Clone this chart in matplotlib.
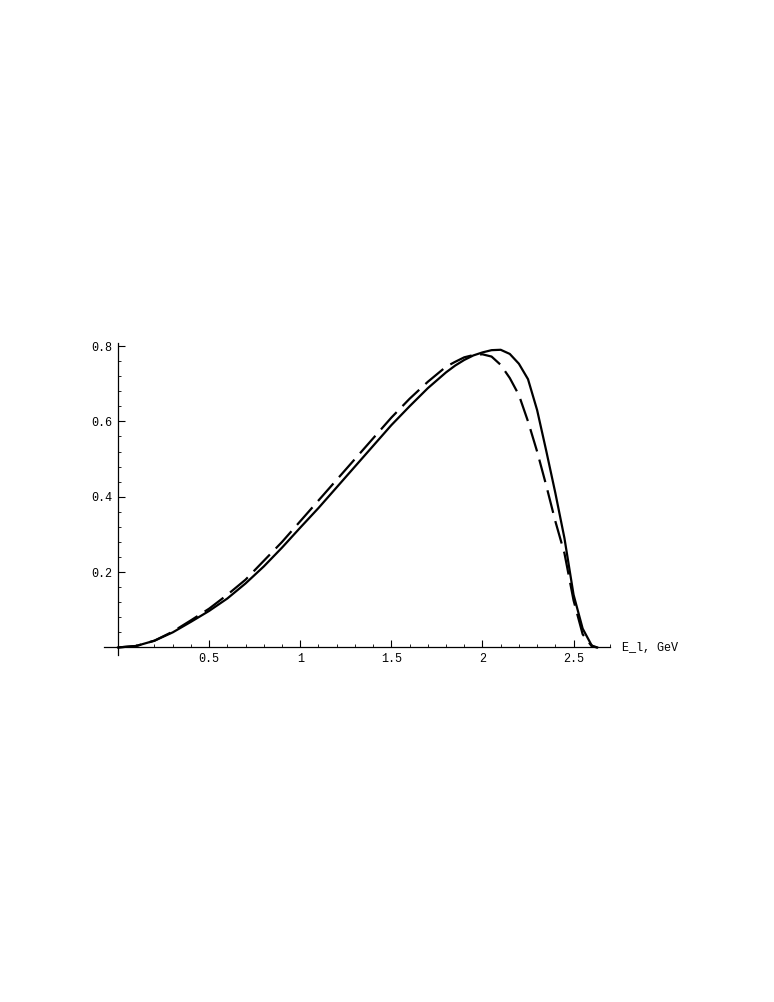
import matplotlib
matplotlib.use("Agg")
import matplotlib.pyplot as plt
from matplotlib.ticker import MultipleLocator, FixedLocator

# lepton energy grid, GeV
energy = [0, 0.1, 0.2, 0.3, 0.4, 0.5, 0.6, 0.7, 0.8, 0.9, 1.0, 1.1, 1.2, 1.3,
          1.4, 1.5, 1.6, 1.7, 1.8, 1.85, 1.9, 1.95, 2.0, 2.05, 2.1, 2.15, 2.2,
          2.25, 2.3, 2.35, 2.4, 2.45, 2.5, 2.55, 2.6, 2.63]

solid = [0, 0.004, 0.018, 0.040, 0.068, 0.097, 0.13, 0.17, 0.215, 0.265,
         0.318, 0.37, 0.425, 0.48, 0.535, 0.59, 0.64, 0.688, 0.73, 0.748,
         0.763, 0.775, 0.783, 0.789, 0.790, 0.779, 0.753, 0.712, 0.630,
         0.522, 0.41, 0.29, 0.14, 0.05, 0.005, 0]

dashed = [0, 0.004, 0.018, 0.042, 0.072, 0.103, 0.14, 0.18, 0.23, 0.28,
          0.335, 0.39, 0.445, 0.50, 0.555, 0.61, 0.66, 0.705, 0.745, 0.758,
          0.77, 0.776, 0.778, 0.772, 0.75, 0.715, 0.67, 0.60, 0.52, 0.43,
          0.335, 0.25, 0.125, 0.035, 0.003, 0]

xticks = [0.5, 1, 1.5, 2, 2.5]
xticklabels = ["0.5", "1", "1.5", "2", "2.5"]
yticks = [0.2, 0.4, 0.6, 0.8]
yticklabels = ["0.2", "0.4", "0.6", "0.8"]

W, H = 774, 1002
fig = plt.figure(figsize=(W / 100, H / 100), dpi=100)

# axes box in pixels
left, right, top, bottom = 104, 610, 343, 655
ax = fig.add_axes([left / W, 1 - bottom / H, (right - left) / W, (bottom - top) / H])
ax.set_xlim(-0.077, 2.70)
ax.set_ylim(-0.02, 0.808)

ax.plot(energy, solid, color="black", lw=1.6, solid_joinstyle="round")
ax.plot(energy, dashed, color="black", lw=1.6, dashes=(10.5, 3.8),
        dash_joinstyle="round")

for s in ["top", "right"]:
    ax.spines[s].set_visible(False)
ax.spines["left"].set_position(("data", 0))
ax.spines["bottom"].set_position(("data", 0))
ax.spines["left"].set_linewidth(0.9)
ax.spines["bottom"].set_linewidth(0.9)

ax.xaxis.set_major_locator(FixedLocator(xticks))
ax.set_xticklabels(xticklabels)
ax.xaxis.set_minor_locator(MultipleLocator(0.1))
ax.yaxis.set_major_locator(FixedLocator(yticks))
ax.set_yticklabels(yticklabels)
ax.yaxis.set_minor_locator(MultipleLocator(0.04))

ax.tick_params(which="major", direction="in", length=5, width=0.8,
               labelsize=8.5, pad=4)
ax.tick_params(which="minor", direction="in", length=2.5, width=0.6)
for lab in ax.get_xticklabels() + ax.get_yticklabels():
    lab.set_fontfamily("Liberation Mono")

ax.text(622 / W, 1 - 648 / H, "E_l, GeV", transform=fig.transFigure,
        fontsize=8.5, family="Liberation Mono", ha="left", va="center")

fig.savefig("out.png", dpi=100)
